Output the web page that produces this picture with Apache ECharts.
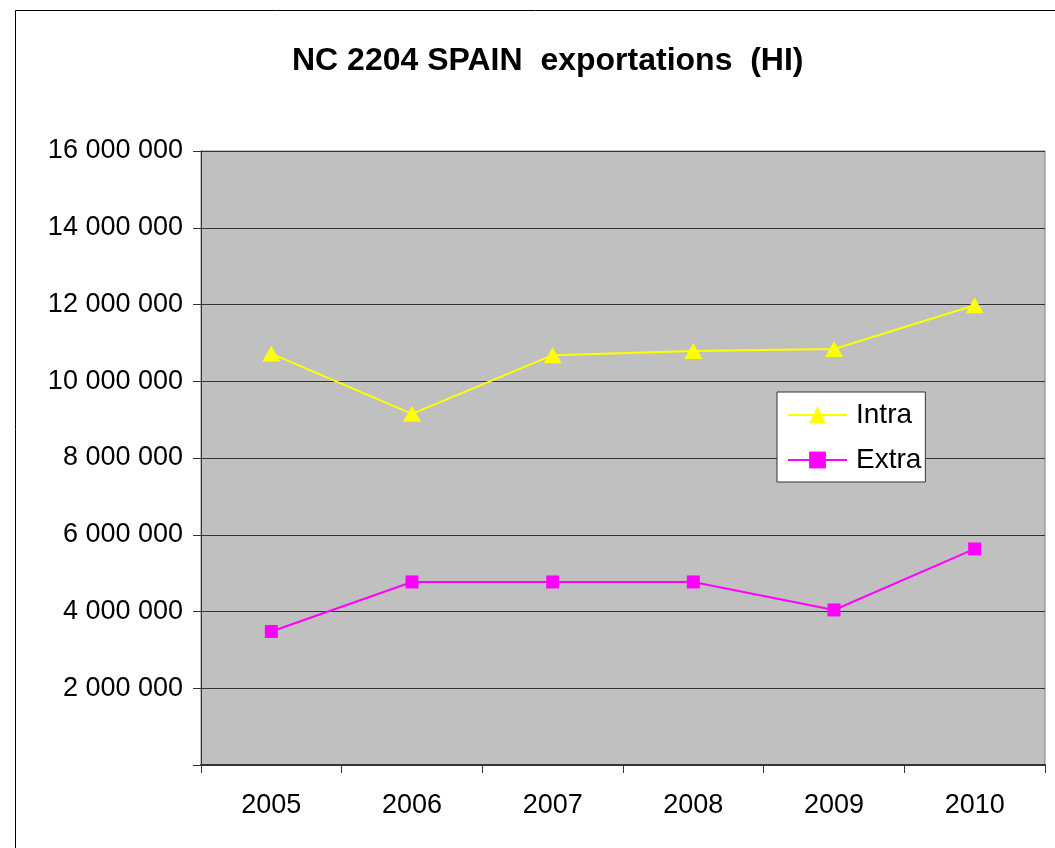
<!DOCTYPE html>
<html>
<head>
<meta charset="utf-8">
<script src="https://cdn.jsdelivr.net/npm/echarts@6/dist/echarts.min.js"></script>
<style>
  html, body { margin: 0; padding: 0; background: #fff; }
  #chart { width: 1055px; height: 848px; }
</style>
</head>
<body>
<div id="chart"></div>
<script>
const years = ['2005', '2006', '2007', '2008', '2009', '2010'];
const intraValues = [10720000, 9150000, 10680000, 10790000, 10840000, 11980000];
const extraValues = [3480000, 4770000, 4770000, 4770000, 4040000, 5630000];
const yTicks = { min: 0, max: 16000000, interval: 2000000 };

const font = 'Liberation Sans, Arial, sans-serif';

function spaced(v) {
  return String(v).replace(/\B(?=(\d{3})+(?!\d))/g, ' ');
}

let myChart = echarts.init(document.getElementById('chart'));

myChart.setOption({
  backgroundColor: '#fff',
  animation: false,
  graphic: [{
    type: 'rect',
    shape: { x: 15.5, y: 10.5, width: 1100, height: 900 },
    style: { fill: 'none', stroke: '#000', lineWidth: 1 },
    z: 0
  }],
  title: {
    text: 'NC 2204 SPAIN  exportations  (HI)',
    left: 292,
    top: 45,
    padding: 0,
    textStyle: { fontFamily: font, fontSize: 32, fontWeight: 'bold', color: '#000' }
  },
  grid: {
    left: 201,
    top: 151,
    right: 10,
    bottom: 83,
    show: true,
    backgroundColor: '#c0c0c0',
    borderColor: '#808080',
    borderWidth: 1
  },
  legend: {
    orient: 'vertical',
    left: 777,
    top: 392,
    padding: [8, 4, 7, 10],
    itemWidth: 59,
    itemHeight: 21,
    itemGap: 15,
    backgroundColor: '#fff',
    borderColor: '#333',
    borderWidth: 1,
    borderRadius: 0,
    textStyle: { fontFamily: font, fontSize: 28, lineHeight: 30, color: '#000', padding: [0, 0, 0, 4] },
    data: ['Intra', 'Extra']
  },
  xAxis: {
    type: 'category',
    data: years,
    boundaryGap: true,
    axisLine: { lineStyle: { color: '#333', width: 2 } },
    axisTick: { show: true, length: 8, lineStyle: { color: '#333' } },
    axisLabel: { fontFamily: font, fontSize: 27, color: '#000', margin: 27 },
    splitLine: { show: false }
  },
  yAxis: {
    type: 'value',
    min: yTicks.min,
    max: yTicks.max,
    interval: yTicks.interval,
    axisLine: { show: true, lineStyle: { color: '#333', width: 1 } },
    axisTick: { show: true, length: 8, lineStyle: { color: '#333' } },
    axisLabel: {
      fontFamily: font, fontSize: 27, color: '#000', margin: 18,
      formatter: function (v) { return v === 0 ? '' : spaced(v); }
    },
    splitLine: { show: true, lineStyle: { color: '#333', width: 1 } }
  },
  series: [{
    name: 'Intra',
    type: 'line',
    data: intraValues,
    color: '#ffff00',
    symbol: 'triangle',
    symbolSize: [18, 16],
    lineStyle: { width: 2, color: '#ffff00' },
    itemStyle: { color: '#ffff00' }
  }, {
    name: 'Extra',
    type: 'line',
    data: extraValues,
    color: '#ff00ff',
    symbol: 'rect',
    symbolSize: 13,
    lineStyle: { width: 2, color: '#ff00ff' },
    itemStyle: { color: '#ff00ff' }
  }]
});
</script>
</body>
</html>
